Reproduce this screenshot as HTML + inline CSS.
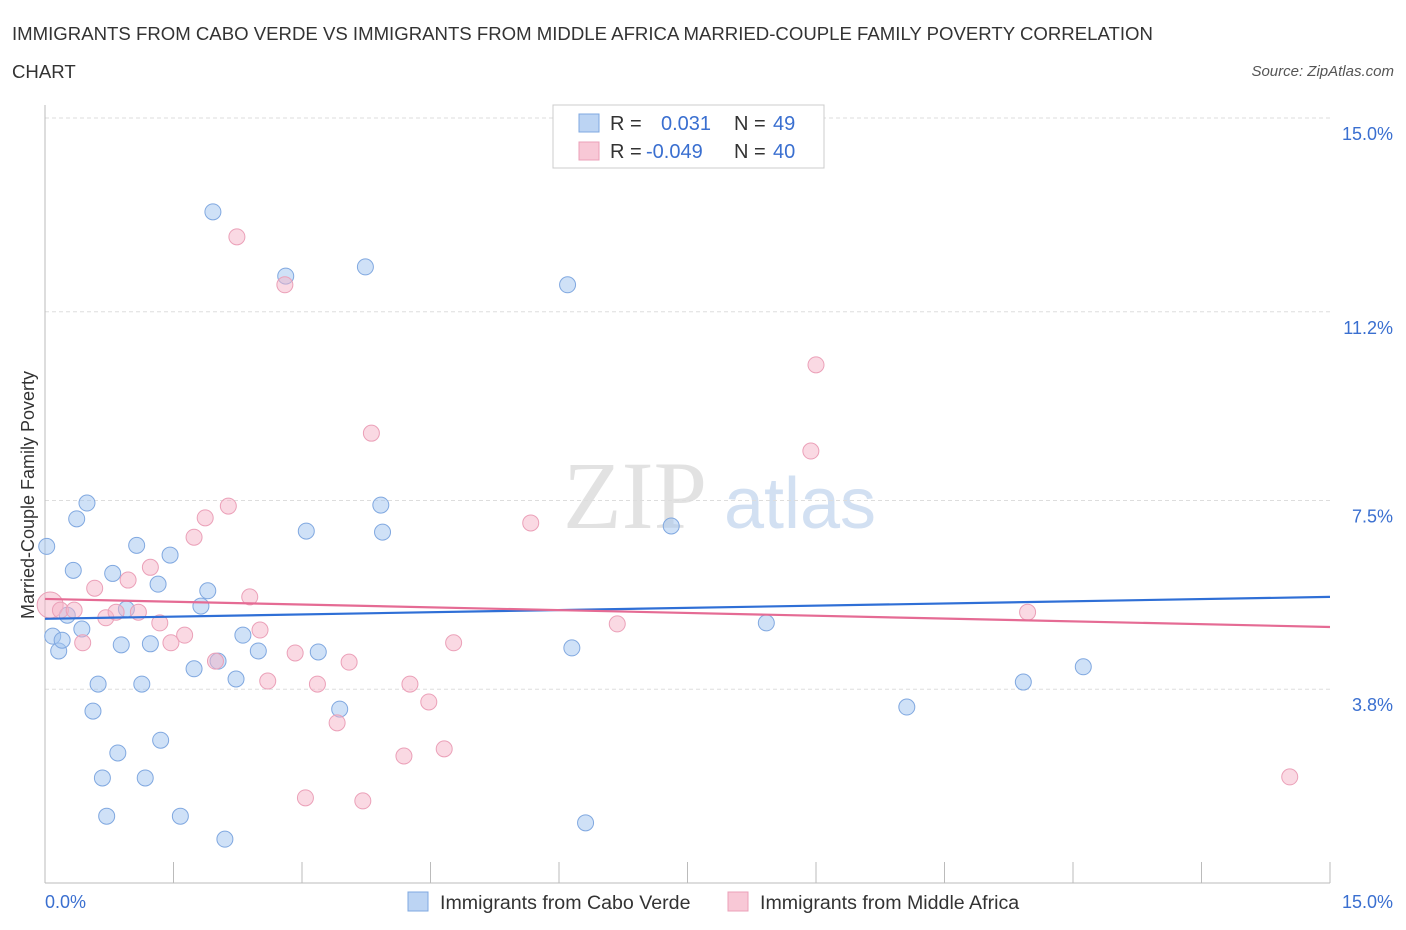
<!DOCTYPE html>
<html><head><meta charset="utf-8"><style>
body{margin:0;background:#fff;font-family:"Liberation Sans",sans-serif;}
svg{display:block}
</style></head><body>
<svg width="1406" height="930" id="c">
<text x="12" y="40" font-size="18.6" fill="#333">IMMIGRANTS FROM CABO VERDE VS IMMIGRANTS FROM MIDDLE AFRICA MARRIED-COUPLE FAMILY POVERTY CORRELATION</text>
<text x="12" y="78" font-size="18.6" fill="#333">CHART</text>
<text x="1394" y="76" font-size="15" fill="#555" font-style="italic" text-anchor="end">Source: ZipAtlas.com</text>
<text x="635" y="528" font-size="96" fill="#e2e2e2" font-family="Liberation Serif,serif" text-anchor="middle">ZIP</text>
<text x="800" y="528" font-size="72" fill="#d2e0f2" text-anchor="middle">atlas</text>
<text transform="translate(34,495) rotate(-90)" font-size="18" fill="#333" text-anchor="middle">Married-Couple Family Poverty</text>
<g id="grid"></g><g id="marks"></g>
<g>
<rect x="553" y="105" width="271" height="63" fill="#fff" stroke="#ccc"/>
<rect x="579" y="114" width="20" height="18" fill="#bcd4f3" stroke="#7fa8e0"/>
<rect x="579" y="142" width="20" height="18" fill="#f8c8d6" stroke="#eba0b8"/>
<text x="610" y="130" font-size="20" fill="#333">R =</text><text x="661" y="130" font-size="20" fill="#3a6fd0">0.031</text>
<text x="734" y="130" font-size="20" fill="#333">N =</text><text x="773" y="130" font-size="20" fill="#3a6fd0">49</text>
<text x="610" y="158" font-size="20" fill="#333">R =</text><text x="646" y="158" font-size="20" fill="#3a6fd0">-0.049</text>
<text x="734" y="158" font-size="20" fill="#333">N =</text><text x="773" y="158" font-size="20" fill="#3a6fd0">40</text>
</g>
<g>
<rect x="408" y="892" width="20" height="19" fill="#bcd4f3" stroke="#7fa8e0"/>
<text x="440" y="909" font-size="19.6" fill="#333">Immigrants from Cabo Verde</text>
<rect x="728" y="892" width="20" height="19" fill="#f8c8d6" stroke="#eba0b8"/>
<text x="760" y="909" font-size="19.6" fill="#333">Immigrants from Middle Africa</text>
</g>
</svg>
<script>
const yTicks=[15.0,11.2,7.5,3.8];
const yTickLabels=["15.0%","11.2%","7.5%","3.8%"];
const blueX=[0.02,0.09,0.16,0.2,0.26,0.33,0.37,0.43,0.49,0.56,0.62,0.72,0.67,0.79,0.85,0.89,0.95,1.07,1.13,1.17,1.23,1.32,1.35,1.46,1.58,1.74,1.82,1.9,1.96,2.02,2.1,2.23,2.31,2.49,2.81,3.05,3.19,3.44,3.74,3.92,3.94,6.1,6.15,6.31,7.31,8.42,10.06,11.42,12.12];
const blueY=[6.6,4.84,4.55,4.76,5.25,6.13,7.14,4.98,7.45,3.37,3.9,1.31,2.06,6.07,2.55,4.67,5.37,6.62,3.9,2.06,4.69,5.86,2.8,6.43,1.31,4.2,5.43,5.73,13.16,4.35,0.86,4.0,4.86,4.55,11.9,6.9,4.53,3.41,12.08,7.41,6.88,11.73,4.61,1.18,7.0,5.1,3.45,3.94,4.24];
const pinkX=[0.06,0.18,0.34,0.44,0.58,0.71,0.83,0.97,1.09,1.23,1.34,1.47,1.63,1.74,1.87,1.99,2.14,2.24,2.39,2.51,2.6,2.8,2.92,3.04,3.18,3.41,3.55,3.71,3.81,4.19,4.26,4.48,4.66,4.77,5.67,6.68,8.94,9.0,11.47,14.53];
const pinkY=[5.45,5.35,5.35,4.71,5.78,5.2,5.31,5.94,5.31,6.19,5.1,4.71,4.86,6.78,7.16,4.35,7.39,12.67,5.61,4.96,3.96,11.73,4.51,1.67,3.9,3.14,4.33,1.61,8.82,2.49,3.9,3.55,2.63,4.71,7.06,5.08,8.47,10.16,5.31,2.08];
const blueTrend=[5.18,5.61], pinkTrend=[5.57,5.02];
const X=v=>45+v*(1285/15), Y=v=>883-v*51;
const NS="http://www.w3.org/2000/svg";
function mk(t,a,p){const e=document.createElementNS(NS,t);for(const k in a)e.setAttribute(k,a[k]);p.appendChild(e);return e;}
const g=document.getElementById('grid'), m=document.getElementById('marks');
yTicks.forEach((v,i)=>{const l=mk('line',{x1:45,x2:1330,y1:Y(v),y2:Y(v),stroke:'#ddd','stroke-dasharray':'4,3'},g);


const t=mk('text',{x:1393,y:Y(v)+22,'font-size':18,fill:'#3a6fd0','text-anchor':'end'},g);t.textContent=yTickLabels[i];

});
const ax=mk('line',{x1:45,x2:1330,y1:883,y2:883,stroke:'#bbb'},g);


const ay=mk('line',{x1:45,x2:45,y1:105,y2:883,stroke:'#bbb'},g);


for(let i=0;i<=10;i++){const tk=mk('line',{x1:X(i*1.5),x2:X(i*1.5),y1:862,y2:883,stroke:'#bbb'},g);

}
const xl=mk('text',{x:45,y:908,'font-size':18,fill:'#3a6fd0'},g);xl.textContent='0.0%';


const xr=mk('text',{x:1393,y:908,'font-size':18,fill:'#3a6fd0','text-anchor':'end'},g);xr.textContent='15.0%';


blueX.forEach((v,i)=>{const c=mk('circle',{cx:X(v),cy:Y(blueY[i]),r:8,fill:'rgba(160,195,240,0.5)',stroke:'#80a8e0'},m);

});
pinkX.forEach((v,i)=>{const c=mk('circle',{cx:X(v),cy:Y(pinkY[i]),r:i==0?13:8,fill:'rgba(245,180,200,0.5)',stroke:'#eba0b8'},m);

});
const bl=mk('line',{x1:X(0),x2:X(15),y1:Y(blueTrend[0]),y2:Y(blueTrend[1]),stroke:'#2f6fd6','stroke-width':2.2},m);


const pl=mk('line',{x1:X(0),x2:X(15),y1:Y(pinkTrend[0]),y2:Y(pinkTrend[1]),stroke:'#e56b94','stroke-width':2.2},m);


</script>
</body></html>
